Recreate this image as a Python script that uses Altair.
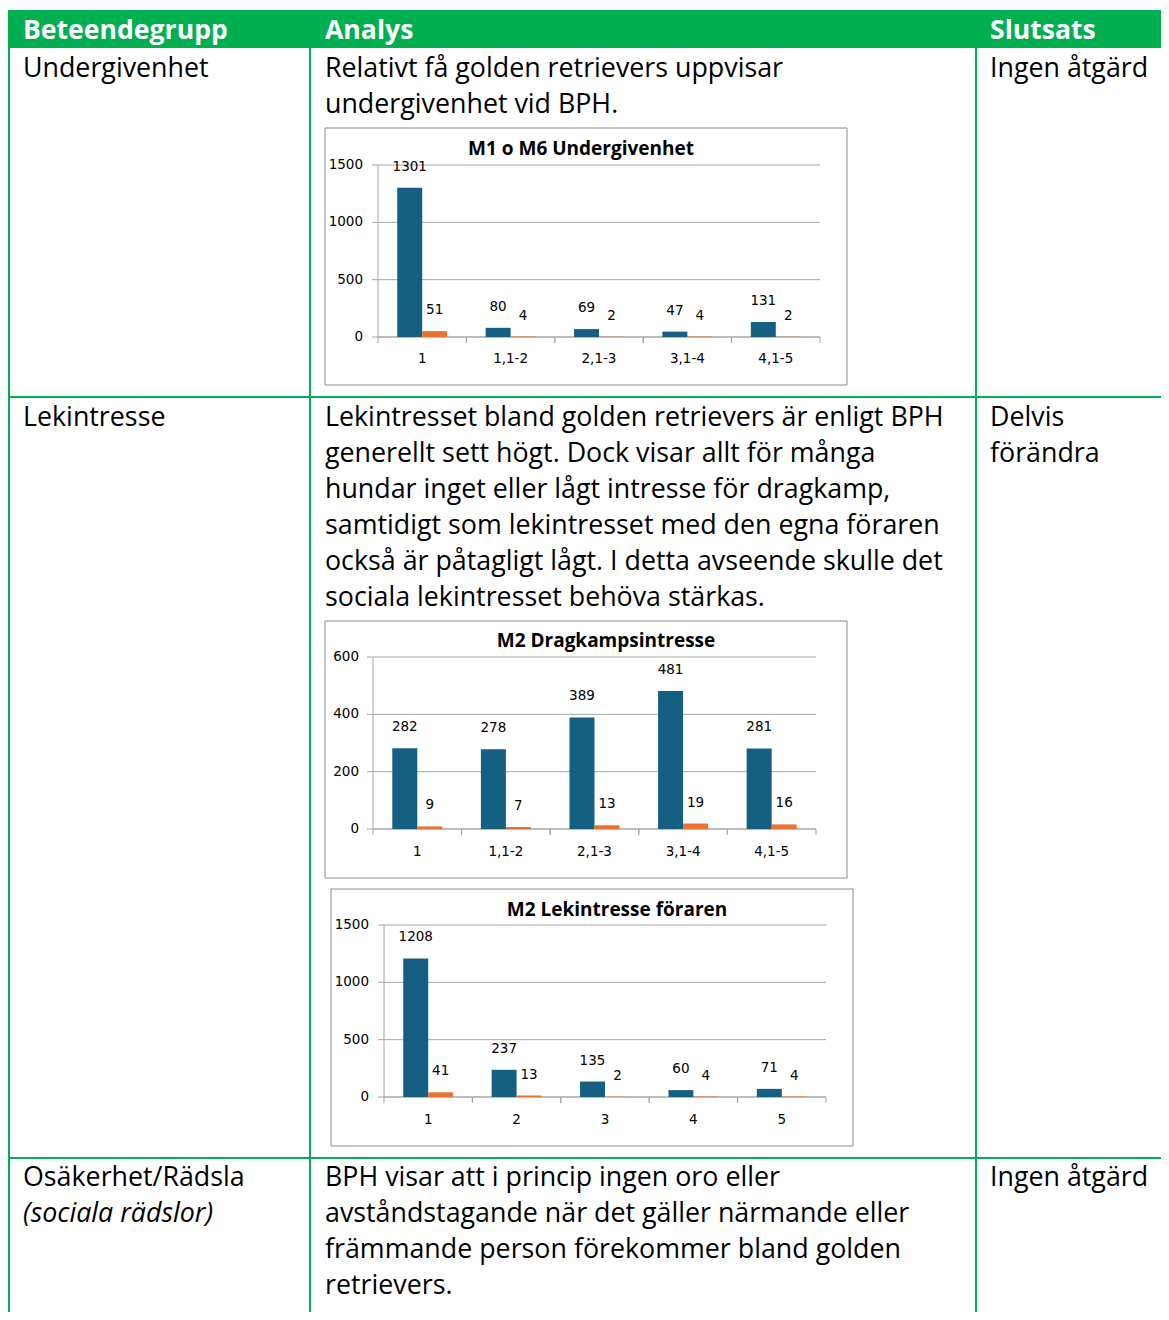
import altair as alt
import pandas as pd

# ---------------- data ----------------
header_texts = ["Beteendegrupp", "Analys", "Slutsats"]

row1_group = ["Undergivenhet"]
row1_analysis = ["Relativt få golden retrievers uppvisar", "undergivenhet vid BPH."]
row1_conclusion = ["Ingen åtgärd"]

row2_group = ["Lekintresse"]
row2_analysis = [
    "Lekintresset bland golden retrievers är enligt BPH",
    "generellt sett högt. Dock visar allt för många",
    "hundar inget eller lågt intresse för dragkamp,",
    "samtidigt som lekintresset med den egna föraren",
    "också är påtagligt lågt. I detta avseende skulle det",
    "sociala lekintresset behöva stärkas.",
]
row2_conclusion = ["Delvis", "förändra"]

row3_group = ["Osäkerhet/Rädsla"]
row3_group_italic = ["(sociala rädslor)"]
row3_analysis = [
    "BPH visar att i princip ingen oro eller",
    "avståndstagande när det gäller närmande eller",
    "främmande person förekommer bland golden",
    "retrievers.",
]
row3_conclusion = ["Ingen åtgärd"]

series_names = ["Serie 1", "Serie 2"]

c1_title = "M1 o M6 Undergivenhet"
c1_cats = ["1", "1,1-2", "2,1-3", "3,1-4", "4,1-5"]
c1_s1 = [1301, 80, 69, 47, 131]
c1_s2 = [51, 4, 2, 4, 2]
c1_ticks = [0, 500, 1000, 1500]

c2_title = "M2 Dragkampsintresse"
c2_cats = ["1", "1,1-2", "2,1-3", "3,1-4", "4,1-5"]
c2_s1 = [282, 278, 389, 481, 281]
c2_s2 = [9, 7, 13, 19, 16]
c2_ticks = [0, 200, 400, 600]

c3_title = "M2 Lekintresse föraren"
c3_cats = ["1", "2", "3", "4", "5"]
c3_s1 = [1208, 237, 135, 60, 71]
c3_s2 = [41, 13, 2, 4, 4]
c3_ticks = [0, 500, 1000, 1500]

# ---------------- styling ----------------
OX, OY = 8, 8  # page margin: plot origin in page pixels
W, H = 1153, 1304
GREEN = "#00B050"
BLUE = "#156082"
ORANGE = "#E97132"
AXIS_GRAY = "#A6A6A6"
BODY_FONT = "Open Sans"
CHART_FONT = "DejaVu Sans"
BODY_SIZE = 26.8
LINE_H = 36

one = pd.DataFrame({"k": [0]})


def X(v):
    return alt.value(v - OX)


def Y(v):
    return alt.value(v - OY)


def rect(x0, x1, y0, y1, **kw):
    return alt.Chart(one).mark_rect(**kw).encode(x=X(x0), x2=X(x1), y=Y(y0), y2=Y(y1))


def rule(x0, x1, y0, y1, color=GREEN, width=2):
    return alt.Chart(one).mark_rule(color=color, strokeWidth=width).encode(
        x=X(x0), x2=X(x1), y=Y(y0), y2=Y(y1)
    )


def text_block(lines, x, y, **kw):
    props = dict(align="left", baseline="alphabetic", font=BODY_FONT,
                 fontSize=BODY_SIZE, lineHeight=LINE_H, color="black")
    props.update(kw)
    return alt.Chart(one).mark_text(text=lines, **props).encode(x=X(x), y=Y(y))


BOTTOM = H + OY
RIGHT = W + OX
table_layers = [
    rect(8, RIGHT, 10, 48, color=GREEN),
    rule(9, 9, 48, BOTTOM),
    rule(310, 310, 48, BOTTOM),
    rule(976, 976, 48, BOTTOM),
    rule(8, RIGHT, 397, 397),
    rule(8, RIGHT, 1158, 1158),
    text_block([header_texts[0]], 23, 39, color="white", fontWeight="bold", fontSize=26.6),
    text_block([header_texts[1]], 325, 39, color="white", fontWeight="bold", fontSize=26.6),
    text_block([header_texts[2]], 990, 39, color="white", fontWeight="bold", fontSize=26.6),
    text_block(row1_group, 23, 77),
    text_block(row1_analysis, 325, 77),
    text_block(row1_conclusion, 990, 77),
    text_block(row2_group, 23, 426),
    text_block(row2_analysis, 325, 426),
    text_block(row2_conclusion, 990, 426),
    text_block(row3_group, 23, 1186),
    text_block(row3_group_italic, 23, 1222, fontStyle="italic"),
    text_block(row3_analysis, 325, 1186),
    text_block(row3_conclusion, 990, 1186),
]


def bar_panel(title, cats, s1, s2, ticks, box, axis_x, x_end, y_zero, y_top,
              title_x, title_y, ylab_x, xlab_y):
    ymax = ticks[-1]
    df = pd.DataFrame({
        "cat": cats + cats,
        "series": [series_names[0]] * len(cats) + [series_names[1]] * len(cats),
        "value": s1 + s2,
    })
    tick_df = pd.DataFrame({"t": ticks})
    xs = alt.Scale(domain=cats, range=[axis_x - OX, x_end - OX], paddingInner=0, paddingOuter=0)
    ys = alt.Scale(domain=[0, ymax], range=[y_zero - OY, y_top - OY], nice=False, zero=True)
    xo = alt.Scale(domain=series_names, paddingInner=0, paddingOuter=0.77)
    cs = alt.Scale(domain=series_names, range=[BLUE, ORANGE])

    bx0, bx1, by0, by1 = box
    frame = rect(bx0, bx1, by0, by1, fill="white", stroke="#8C8C8C", strokeWidth=1)
    ttl = alt.Chart(one).mark_text(
        text=title, align="center", baseline="alphabetic", font=BODY_FONT,
        fontSize=19, fontWeight="bold", color="black"
    ).encode(x=X(title_x), y=Y(title_y))

    grid = alt.Chart(tick_df).mark_rule(color=AXIS_GRAY, strokeWidth=1).encode(
        y=alt.Y("t:Q", scale=ys, axis=None), x=X(axis_x - 6), x2=X(x_end)
    )
    yaxis_line = alt.Chart(one).mark_rule(color=AXIS_GRAY, strokeWidth=1).encode(
        x=X(axis_x), y=Y(y_zero), y2=Y(y_top)
    )
    ylabels = alt.Chart(tick_df).mark_text(
        align="right", baseline="middle", font=CHART_FONT, fontSize=13.5, color="black"
    ).encode(y=alt.Y("t:Q", scale=ys, axis=None), x=X(ylab_x), text="t:Q")

    bars = alt.Chart(df).mark_bar().encode(
        x=alt.X("cat:N", scale=xs, axis=None, sort=cats),
        xOffset=alt.XOffset("series:N", scale=xo, sort=series_names),
        y=alt.Y("value:Q", scale=ys, axis=None),
        color=alt.Color("series:N", scale=cs, legend=None),
    )
    vlabels = alt.Chart(df).mark_text(
        baseline="middle", align="center", font=CHART_FONT, fontSize=13.5, color="black", dy=-21
    ).encode(
        x=alt.X("cat:N", scale=xs, axis=None, sort=cats),
        xOffset=alt.XOffset("series:N", scale=xo, sort=series_names),
        y=alt.Y("value:Q", scale=ys, axis=None),
        text="value:Q",
    )
    cat_df = pd.DataFrame({"cat": cats})
    ticks_start = alt.Chart(cat_df).mark_rule(color=AXIS_GRAY).encode(
        x=alt.X("cat:N", scale=xs, axis=None, sort=cats, bandPosition=0),
        y=Y(y_zero), y2=Y(y_zero + 6),
    )
    ticks_end = alt.Chart(cat_df).mark_rule(color=AXIS_GRAY).encode(
        x=alt.X("cat:N", scale=xs, axis=None, sort=cats, bandPosition=1),
        y=Y(y_zero), y2=Y(y_zero + 6),
    )
    xaxis_line = alt.Chart(one).mark_rule(color=AXIS_GRAY, strokeWidth=1).encode(
        x=X(axis_x), x2=X(x_end), y=Y(y_zero)
    )
    xlabels = alt.Chart(cat_df).mark_text(
        align="center", baseline="middle", font=CHART_FONT, fontSize=13.5, color="black"
    ).encode(x=alt.X("cat:N", scale=xs, axis=None, sort=cats), y=Y(xlab_y), text="cat:N")

    return alt.layer(frame, ttl, grid, yaxis_line, ylabels, ticks_start, ticks_end,
                     xaxis_line, bars, vlabels, xlabels)


chart1 = bar_panel(c1_title, c1_cats, c1_s1, c1_s2, c1_ticks,
                   (325, 847, 128, 385), 378, 820, 337, 165, 581, 155, 363, 359)
chart2 = bar_panel(c2_title, c2_cats, c2_s1, c2_s2, c2_ticks,
                   (325, 847, 621, 878), 373, 816, 829, 657, 606, 647, 359, 852)
chart3 = bar_panel(c3_title, c3_cats, c3_s1, c3_s2, c3_ticks,
                   (331, 853, 889, 1146), 384, 826, 1097, 925, 617, 916, 369, 1120)

chart = alt.layer(*table_layers, chart1, chart2, chart3).resolve_scale(
    x="independent", y="independent", xOffset="independent", color="independent"
).properties(
    width=W, height=H, padding=0, autosize=alt.AutoSizeParams(type="none")
).configure(background="white").configure_view(stroke=None)

chart.save("out.html", embed_options={"renderer": "svg", "actions": False})
